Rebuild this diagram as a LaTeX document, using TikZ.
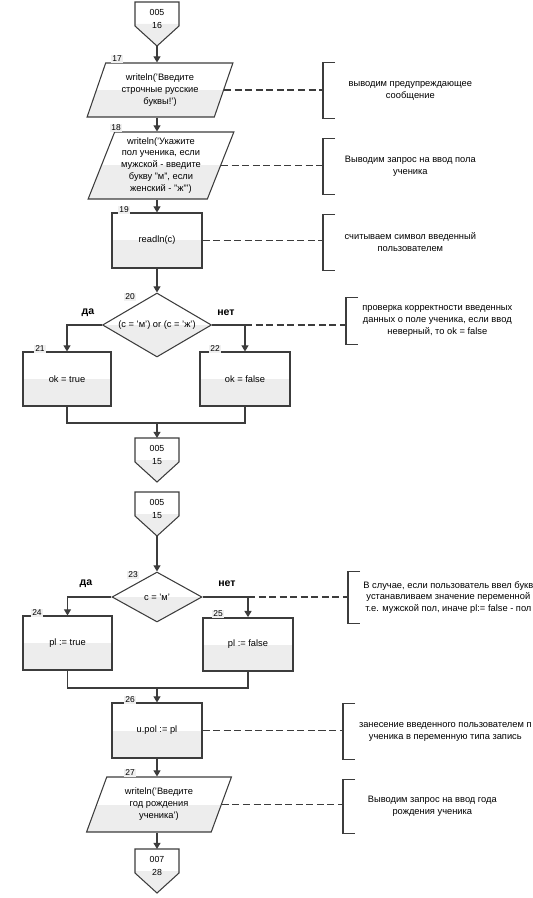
\documentclass[tikz,border=0pt]{standalone}
\usepackage{fontspec}
\setmainfont{Liberation Sans}
\usepackage{tikz}
\usetikzlibrary{shapes.geometric,arrows.meta}

\definecolor{ln}{HTML}{3C3C3C}
\definecolor{shd}{HTML}{EDEDED}

% off-page connector: name, x, top y, line 1, line 2
\newcommand{\offpage}[5]{%
  \fill[shd] (#2-22,#3+22) -- (#2+22,#3+22) -- (#2+22,#3+24) -- (#2,#3+44) -- (#2-22,#3+24) -- cycle;
  \draw[box line] (#2-22,#3) -- (#2+22,#3) -- (#2+22,#3+24) -- (#2,#3+44) -- (#2-22,#3+24) -- cycle;
  \node[txt, font=\fontsize{5}{7.4}\selectfont] (#1) at (#2,#3+16.5) {#4\\#5};
  \coordinate (#1-in) at (#2,#3);
  \coordinate (#1-out) at (#2,#3+44);
}
% bracket of a comment
\newcommand{\bracket}[1]{%
  \draw[box line] ([xshift=0.24cm]#1.north west) -- (#1.north west) -- (#1.south west) -- ([xshift=0.24cm]#1.south west);
}

\begin{document}
\begin{tikzpicture}[x=0.02cm, y=-0.02cm,
    flow/.style={draw=ln, line width=0.7pt},
    arr/.style={flow, -{Triangle[width=4pt,length=3.5pt]}},
    cmt/.style={draw=ln, line width=1pt, dash pattern=on 4pt off 2pt},
    box line/.style={draw=ln, line width=0.6pt},
    halfgray/.style={path picture={\fill[shd] (path picture bounding box.west) rectangle (path picture bounding box.south east);}},
    txt/.style={font=\fontsize{5.3}{6.8}\selectfont, align=center, inner sep=0pt},
    proc/.style={box line, halfgray, txt, rectangle, minimum width=1.8cm, minimum height=1.1cm},
    io/.style={box line, halfgray, txt, trapezium, trapezium left angle=68, trapezium right angle=112,
      trapezium stretches=true, minimum width=2.92cm, minimum height=1.1cm},
    cond/.style={box line, halfgray, txt, diamond},
    note/.style={txt, anchor=west, minimum height=1.1cm},
    num/.style={font=\fontsize{4.8}{5}\selectfont, fill=gray!12, inner sep=0.8pt},
    yn/.style={font=\fontsize{6}{7}\selectfont\bfseries}]
\useasboundingbox (0,0) rectangle (533,898);

% first part
\offpage{c16}{157}{2}{005}{16}
\node[io, minimum height=1.08cm] (p17) at (160,90) {writeln('Введите\\строчные русские\\буквы!')};
\node[io, minimum height=1.34cm] (p18) at (161,165.5) {writeln('Укажите\\пол ученика, если\\мужской - введите\\букву "м", если\\женский - "ж"')};
\node[proc] (b19) at (157,240.5) {readln(c)};
\node[cond, aspect=1.7, minimum width=2.18cm, minimum height=1.28cm] (d20) at (157,325) {(c = 'м') or (c = 'ж')};
\node[proc, minimum width=1.76cm, minimum height=1.08cm] (b21) at (67,379) {ok = true};
\node[proc, minimum width=1.8cm, minimum height=1.08cm] (b22) at (245,379) {ok = false};
\coordinate (j1) at (157,423);
\offpage{c15a}{157}{438}{005}{15}

% second part
\offpage{c15b}{157}{492}{005}{15}
\node[cond, aspect=1.8, minimum width=1.8cm, minimum height=1cm] (d23) at (157,597) {c = 'м'};
\node[proc, minimum width=1.78cm, minimum height=1.08cm] (b24) at (67.5,643) {pl := true};
\node[proc, minimum width=1.8cm, minimum height=1.06cm, line width=1pt] (b25) at (248,644.5) {pl := false};
\coordinate (j2) at (157,688);
\node[proc] (b26) at (157,730.5) {u.pol := pl};
\node[io, minimum height=1.1cm, minimum width=2.9cm] (p27) at (159,804.5) {writeln('Введите\\год рождения\\ученика')};
\offpage{c28}{157}{849}{007}{28}

% numbers
\node[num] (l17) at (117,59) {17};
\node[num] (l18) at (116,128) {18};
\node[num] (l19) at (124,210) {19};
\node[num] (l20) at (130,297) {20};
\node[num] (l21) at (40,349) {21};
\node[num] (l22) at (215,349) {22};
\node[num] (l23) at (133,575) {23};
\node[num] (l24) at (37,613) {24};
\node[num] (l25) at (218,614) {25};
\node[num] (l26) at (130,700) {26};
\node[num] (l27) at (130,773) {27};
\node[yn] (y20) at (88,313) {да};
\node[yn] (n20) at (226,313) {нет};
\node[yn] (y23) at (86,584) {да};
\node[yn] (n23) at (227,584) {нет};

% comments
\node[note, minimum width=3.48cm] (k17) at (323,90.5) {выводим предупреждающее\\сообщение};
\node[note, minimum width=3.48cm] (k18) at (323,166.5) {Выводим запрос на ввод пола\\ученика};
\node[note, minimum width=3.48cm] (k19) at (323,242.5) {считываем символ введенный\\пользователем};
\node[note, minimum width=3.64cm, minimum height=0.92cm] (k20) at (346,321) {проверка корректности введенных\\данных о поле ученика, если ввод\\неверный, то ok = false};
\node[note, minimum width=4cm, minimum height=1.02cm] (k23) at (348,597.5) {В случае, если пользователь ввел букв\\устанавливаем значение переменной\\т.е. мужской пол, иначе pl:= false - пол};
\node[note, minimum width=4.08cm] (k26) at (343,731.5) {занесение введенного пользователем п\\ученика в переменную типа запись};
\node[note, minimum width=3.56cm, minimum height=1.06cm] (k27) at (343,806.5) {Выводим запрос на ввод года\\рождения ученика};
\bracket{k17} \bracket{k18} \bracket{k19} \bracket{k20}
\bracket{k23} \bracket{k26} \bracket{k27}

% connectors
\draw[arr] (c16-out) -- (c16-out |- p17.north);
\draw[arr] (c16-out |- p17.south) -- (c16-out |- p18.north);
\draw[arr] (b19 |- p18.south) -- (b19.north);
\draw[arr] (b19.south) -- (d20.north);
\draw[arr] (d20.west) -| (b21.north);
\draw[arr] (d20.east) -| (b22.north);
\draw[flow] (b21.south) |- (j1) -| (b22.south);
\draw[arr] (j1) -- (c15a-in);
\draw[arr] (c15b-out) -- (d23.north);
\draw[arr] (d23.west) -| (b24.north);
\draw[arr] (d23.east) -| (b25.north);
\draw[flow] (b24.south) |- (j2) -| (b25.south);
\draw[arr] (j2) -- (b26.north);
\draw[arr] (b26.south) -- (b26.south |- p27.north);
\draw[arr] (b26.south |- p27.south) -- (c28-in);

\draw[cmt] (p17.east) -- (p17.east -| k17.west);
\draw[cmt] (p18.east) -- (p18.east -| k18.west);
\draw[cmt] (b19.east) -- (b19.east -| k19.west);
\draw[cmt] (d20.east -| b22.north) -- (d20.east -| k20.west);
\draw[cmt] (d23.east -| b25.north) -- (d23.east -| k23.west);
\draw[cmt] (b26.east) -- (b26.east -| k26.west);
\draw[cmt] (p27.east) -- (p27.east -| k27.west);
\end{tikzpicture}
\end{document}
